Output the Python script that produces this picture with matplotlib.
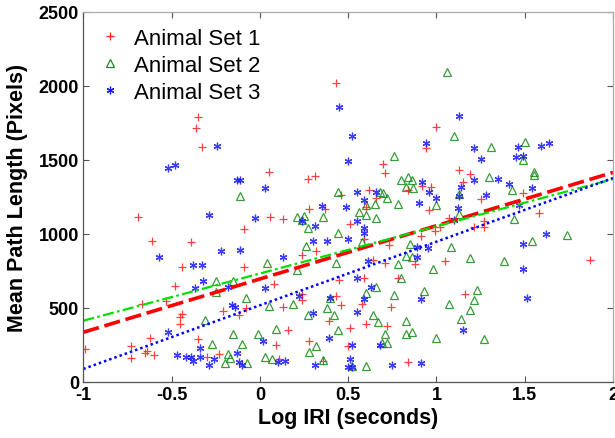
import matplotlib
matplotlib.use("Agg")
import matplotlib.pyplot as plt
import numpy as np

# ---- data ----
set1_x = [-0.35, -0.36, -0.33, 0.43, 1.00, 0.94, 0.70, 0.71, 0.84, 0.92, 0.97, 1.13, 1.19, 1.15, 1.49,
          0.46, 0.62, 0.05, 0.27, 0.31, -0.69, -0.09, -0.61, -0.39, 0.06, 0.13, 0.28, 0.37, 0.32, 0.24,
          0.51, 0.60, 0.66, 1.07, 1.02, 0.96, 1.25, 1.58, 1.27, 1.21, 1.27, 0.99, 0.59, 0.73, 0.91,
          0.64, 0.88, 0.71, 1.05, 1.87, -0.44, -0.09, -0.48, 0.08, -0.53, -0.67, -0.21, -0.12, -0.08,
          -0.44, -0.45, -0.45, 0.13, 0.24, 0.24, -0.62, -0.35, -0.99, -0.73, -0.73, -0.64, -0.65, -0.60,
          -0.30, -0.23, 0.09, 0.16, 0.28, 0.39, 0.11, 0.36, 0.51, 0.50, 0.60, 0.72, 0.74, 0.45, 0.59,
          0.58, 0.43, 0.46, 0.78, 1.16, 0.84]
set1_y = [1790, 1715, 1590, 2020, 1720, 1580, 1475, 1410, 1300, 1325, 1320, 1435, 1405, 1350, 1275,
          1265, 1300, 1420, 1370, 1390, 1115, 1035, 950, 945, 1115, 1100, 1170, 1170, 885, 855,
          1065, 1185, 1240, 1110, 1050, 1160, 1235, 1145, 1090, 1045, 1050, 1020, 965, 925, 985,
          825, 800, 805, 815, 825, 780, 780, 650, 665, 545, 530, 480, 455, 500,
          459, 437, 395, 505, 555, 595, 300, 290, 225, 240, 165, 210, 195, 180,
          170, 190, 250, 350, 275, 415, 155, 145, 365, 245, 390, 375, 510, 690, 705,
          525, 580, 520, 700, 595, 135]

set2_x = [1.06, 1.10, 1.31, 1.50, 1.49, 0.76, 0.80, 0.84, 0.86, 0.83, 0.87, 1.30, 1.43, 1.55, 1.55,
          0.44, 0.68, 0.70, -0.11, 0.72, 0.65, 0.60, 0.78, 0.56, 0.60, 0.66, 0.21, 0.25, 0.24, 0.36,
          0.27, 0.44, 0.58, 0.26, 0.04, 0.21, 0.43, -0.08, -0.25, -0.15, -0.25, 0.05, 0.19, 0.40,
          0.27, 0.38, 0.42, -0.31, -0.15, -0.01, 0.09, -0.27, -0.10, 0.32, 0.28, -0.20, -0.18, -0.17,
          -0.07, 0.03, 0.07, 0.36, 0.52, 0.60, 0.66, 0.60, 0.76, 0.93, 0.64, 0.67, 0.71, 0.69, 0.72,
          0.83, 0.86, 0.83, 0.78, 0.80, 0.83, 0.86, 0.85, 0.98, 1.08, 1.19, 1.38, 1.54, 1.74, 1.44,
          1.00, 1.13, 1.13, 1.23, 1.21, 1.07, 1.19, 1.14, 1.00, 1.27, 0.44]
set2_y = [2095, 1665, 1590, 1620, 1500, 1525, 1365, 1385, 1365, 1318, 1310, 1385, 1295, 1420, 1400,
          1285, 1285, 1280, 1255, 1245, 1200, 1195, 1200, 1150, 1125, 1110, 1115, 1120, 1095, 1115,
          1040, 1005, 945, 920, 805, 755, 805, 570, 680, 685, 605, 515, 525, 570,
          455, 500, 455, 420, 325, 325, 355, 260, 260, 245, 205, 130, 190, 160,
          130, 170, 155, 150, 110, 105, 645, 600, 585, 615, 455, 405, 325, 265, 265,
          410, 340, 325, 795, 700, 850, 845, 930, 765, 915, 840, 815, 950, 990, 1100,
          1195, 1270, 1135, 620, 555, 525, 485, 425, 295, 290, 350]

set3_x = [0.45, 1.13, 0.52, 0.50, 0.94, 1.21, 1.25, 1.46, 1.45, 1.49, 1.59, 1.64, -0.24, -0.52, -0.48,
          -0.13, -0.11, -0.29, 0.03, 0.92, 0.96, 1.21, 1.35, 1.41, 1.54, 0.55, 0.66, 1.14, 1.00, 1.28,
          1.47, 1.12, 1.10, 1.62, 1.49, 0.35, 0.49, 0.59, -0.03, 0.24, 0.31, 0.55, 0.59, 0.59, 0.50,
          0.30, 0.38, 0.90, 1.13, 0.89, 0.95, 0.89, 0.61, 1.49, 0.55, 0.63, 0.59, 0.91, 1.51, 0.55,
          0.40, 0.22, 0.30, 0.39, 0.02, 0.03, 0.13, 0.68, 0.52, 0.51, 0.50, 0.52, 0.75, 0.91, 1.15,
          0.31, 0.10, 0.14, -0.57, -0.22, -0.11, -0.38, -0.33, -0.32, -0.37, -0.18, -0.16, -0.14, -0.52,
          -0.34, -0.13, -0.47, -0.42, -0.39, -0.38, -0.34, -0.26, -0.29, -0.12, -0.10]
set3_y = [1860, 1800, 1665, 1495, 1615, 1580, 1510, 1585, 1520, 1525, 1595, 1615, 1595, 1445, 1465,
          1365, 1365, 1130, 1310, 1350, 1285, 1365, 1370, 1340, 1310, 1285, 1285, 1320, 1240, 1265,
          1195, 1175, 1095, 1000, 935, 1190, 1180, 1230, 1105, 1090, 1055, 1085, 1040, 1005, 965,
          955, 955, 1210, 1255, 915, 905, 845, 815, 765, 705, 645, 560, 560, 565, 475,
          565, 580, 465, 297, 280, 635, 845, 250, 250, 155, 100, 100, 115, 130, 350,
          115, 135, 140, 845, 885, 895, 790, 790, 685, 635, 640, 520, 510, 335,
          230, 195, 180, 168, 168, 145, 170, 152, 117, 133, 115]

labels = ["Animal Set 1", "Animal Set 2", "Animal Set 3"]

# fitted trend lines: (slope, intercept)
fit_slope = [360, 319, 430]
fit_intercept = [696, 733, 518]
fit_x = [-1, 2]

plt.rcParams['font.family'] = ['Liberation Sans', 'DejaVu Sans']

fig = plt.figure(figsize=(6.15, 4.39), dpi=100)
ax = fig.add_axes([0.1354, 0.1276, 0.8614, 0.8428])

ax.plot(set1_x, set1_y, linestyle='none', marker='+', color='#ff2020', ms=6, mew=0.9,
        label=labels[0], alpha=0.85)
ax.plot(set2_x, set2_y, linestyle='none', marker='^', mfc='none', mec='#1a8a1a', ms=5.5, mew=0.9,
        label=labels[1], alpha=0.85)
ax.plot(set3_x, set3_y, linestyle='none', marker=(6, 2, 0), color='#1a1aff', ms=5.5, mew=0.9,
        label=labels[2], alpha=0.85)

fx = np.array(fit_x, dtype=float)
ax.plot(fx, fit_slope[0] * fx + fit_intercept[0], color='#ff0000', lw=2.6, linestyle=(0, (4.5, 1.6)))
ax.plot(fx, fit_slope[1] * fx + fit_intercept[1], color='#00e000', lw=1.6,
        linestyle=(0, (5, 1.5, 1.2, 1.5)))
ax.plot(fx, fit_slope[2] * fx + fit_intercept[2], color='#0000ff', lw=1.8, linestyle=(0, (1, 1.2)))

ax.set_xlim(-1, 2)
ax.set_ylim(0, 2500)
ax.set_xticks([-1, -0.5, 0, 0.5, 1, 1.5, 2])
ax.set_xticklabels(['-1', '-0.5', '0', '0.5', '1', '1.5', '2'])
ax.set_yticks([0, 500, 1000, 1500, 2000, 2500])

ax.tick_params(direction='in', length=4, width=0.8, top=True, right=True,
               labelsize=13, colors='#555555', labelcolor='black', pad=3)
for lab in ax.get_xticklabels() + ax.get_yticklabels():
    lab.set_fontweight('bold')
for s in ax.spines.values():
    s.set_color('#555555')
    s.set_linewidth(0.9)
ax.spines['top'].set_color('#aaaaaa')
ax.spines['right'].set_color('#aaaaaa')

ax.set_xlabel('Log IRI (seconds)', fontsize=15.5, fontweight='bold', labelpad=3)
ax.set_ylabel('Mean Path Length (Pixels)', fontsize=15.5, fontweight='bold', labelpad=8)

leg = ax.legend(loc='upper left', frameon=False, fontsize=16, handlelength=1.0,
                handletextpad=0.6, labelspacing=0.28, borderaxespad=0.3,
                bbox_to_anchor=(0.0, 1.0))
for h in leg.legend_handles:
    h.set_alpha(1)

fig.savefig('out.png', dpi=100)
